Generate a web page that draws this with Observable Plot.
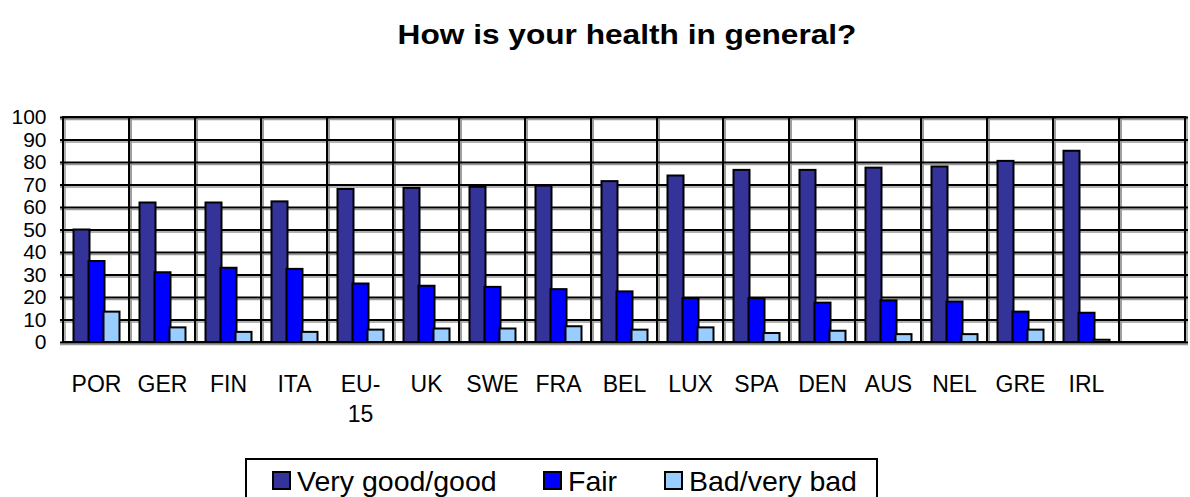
<!DOCTYPE html>
<html>
<head>
<meta charset="utf-8">
<script src="https://cdn.jsdelivr.net/npm/d3@7"></script>
<script src="https://cdn.jsdelivr.net/npm/@observablehq/plot@0.6"></script>
<style>
  body { margin: 0; background: #fff; }
  #wrap { position: relative; width: 1190px; height: 497px; overflow: hidden; font-family: Arial, "Liberation Sans", sans-serif; }
  #title { position: absolute; left: 627px; top: 19px; transform: translateX(-50%) scaleX(1.13); white-space: nowrap; font-weight: bold; font-size: 28px; color: #000; }
  #chart { position: absolute; left: 0; top: 0; }
  #legend { position: absolute; left: 245px; top: 458px; width: 629px; height: 60px; border: 2px solid #000; background: #fff; }
  .item { position: absolute; top: 0; white-space: nowrap; font-size: 28.5px; line-height: 1; color: #000; }
  .sw { position: absolute; width: 15px; height: 15px; border: 2px solid #000; }
</style>
</head>
<body>
<div id="wrap">
  <div id="chart"></div>
  <div id="title">How is your health in general?</div>
  <div id="legend"></div>
</div>
<script>
const categories = ["POR","GER","FIN","ITA","EU-15","UK","SWE","FRA","BEL","LUX","SPA","DEN","AUS","NEL","GRE","IRL"];
const veryGood = [50, 62, 62, 62.5, 68, 68.5, 69, 69.5, 71.5, 74, 76.5, 76.5, 77.5, 78, 80.5, 85];
const fair     = [36, 31, 33, 32.5, 26, 25, 24.5, 23.5, 22.5, 19.5, 19.5, 17.5, 18.5, 18, 13.5, 13];
const bad      = [13.5, 6.5, 4.5, 4.5, 5.5, 6, 6, 7, 5.5, 6.5, 4, 5, 3.5, 3.5, 5.5, 1];
const seriesNames = ["Very good/good", "Fair", "Bad/very bad"];
const seriesColors = ["#333399", "#0000FF", "#99CCFF"];
const yTicks = [0,10,20,30,40,50,60,70,80,90,100];

const extra = " ";
const domain = [...categories, extra];
const rows = categories.map((c, i) => ({country: c, v: [veryGood[i], fair[i], bad[i]]}));
const offsets = [-14.5, 0.5, 15.5];

const barMarks = [0,1,2].map(k => Plot.barY(rows, {
  x: "country", y1: 0, y2: d => d.v[k],
  fill: seriesColors[k], stroke: "#000", strokeWidth: 2,
  insetLeft: 25, insetRight: 25, dx: offsets[k]
}));

const chart = Plot.plot({
  width: 1190,
  height: 440,
  marginTop: 117,
  marginBottom: 98,
  marginLeft: 60,
  marginRight: 2,
  style: { fontFamily: "Arial, 'Liberation Sans', sans-serif", color: "#000", background: "transparent" },
  x: { type: "band", domain, padding: 0, label: null },
  y: { domain: [0, 100], label: null },
  marks: [
    Plot.ruleY(yTicks, { stroke: "#999", strokeWidth: 1.5, dy: 2 }),
    Plot.barY(domain, { x: d => d, y1: 0, y2: 100, fill: "none", stroke: "#999", strokeWidth: 1.5, dx: 2 }),
    Plot.ruleY(yTicks, { stroke: "#000", strokeWidth: 2 }),
    Plot.barY(domain, { x: d => d, y1: 0, y2: 100, fill: "none", stroke: "#000", strokeWidth: 2 }),
    ...barMarks,
    Plot.axisY({ ticks: yTicks, tickSize: 0, tickPadding: 14, fontSize: 21, label: null }),
    Plot.axisX({ tickSize: 0, tickPadding: 28, fontSize: 23, lineHeight: 1.3, label: null,
      tickFormat: d => d === "EU-15" ? "EU-\n15" : d })
  ]
});
document.getElementById("chart").appendChild(chart);

const legend = document.getElementById("legend");
const lefts = [25, 296, 417];
seriesNames.forEach((name, k) => {
  const sw = document.createElement("div");
  sw.className = "sw";
  sw.style.background = seriesColors[k];
  sw.style.left = lefts[k] + "px";
  sw.style.top = "11px";
  legend.appendChild(sw);
  const t = document.createElement("div");
  t.className = "item";
  t.textContent = name;
  t.style.left = (lefts[k] + 25) + "px";
  t.style.top = "7px";
  legend.appendChild(t);
});
</script>
</body>
</html>
